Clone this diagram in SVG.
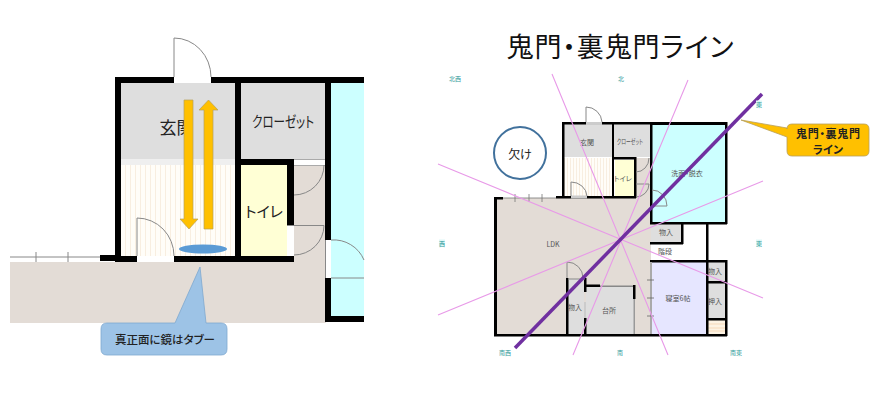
<svg xmlns="http://www.w3.org/2000/svg" width="886" height="410" viewBox="0 0 886 410">
<style>
text{font-family:"Noto Sans CJK JP","Noto Sans",sans-serif;text-anchor:middle;dominant-baseline:central;font-feature-settings:"palt"}
.w{fill:#000}
.g{fill:#dedede}
.bg{fill:#e3dcd6}
.c{fill:#ccffff}
.y{fill:#ffffd5}
.wh{fill:#fff}
.d{fill:none;stroke:#888;stroke-width:1}
.o{fill:#ffc000;stroke:#b8a05a;stroke-width:.7}
.p{stroke:#e89ae8;stroke-width:1.1;fill:none}
.t{fill:#2f9a9a;font-size:6px}
.s{fill:#555;font-size:7px}
.tb{fill:#dff7f7}
</style>
<defs>
<pattern id="st" width="5" height="10" patternUnits="userSpaceOnUse"><rect width="5" height="10" fill="#fffdf8"/><rect width="1" height="10" fill="#f8eee0"/></pattern>
<pattern id="st2" width="3" height="10" patternUnits="userSpaceOnUse"><rect width="3" height="10" fill="#fffdf8"/><rect width="1" height="10" fill="#f8eee0"/></pattern>
</defs>

<g id="plan-left">
<rect class="bg" x="10" y="262" width="316" height="61"/>
<rect class="bg" x="294" y="159" width="32" height="104"/>
<rect class="g" x="121" y="83" width="114" height="76"/>
<rect x="121" y="159" width="114" height="6" fill="#efefef"/>
<rect x="121" y="165" width="114" height="91" fill="url(#st)"/>
<rect class="g" x="241" y="83" width="84" height="76"/>
<rect class="y" x="241" y="165" width="46" height="91"/>
<rect class="c" x="331" y="83" width="33" height="233"/>
<path class="w" d="M115 77H364V83H331V316H364V322H325V83H241V159H294V262H115V83H115ZM121 83V256H235V83ZM241 165V256H287V165Z" fill-rule="evenodd"/>
<rect class="wh" x="294" y="160" width="31" height="5"/>
<path d="M294 159.500H325M294 165.500H325" stroke="#aaa" stroke-width="1"/>
<rect class="w" x="100" y="255" width="16" height="6"/>
<path d="M10 257H100M36 252V262M68 252V262" stroke="#888" stroke-width="1" fill="none"/>
<rect class="wh" x="174" y="77" width="37" height="6"/>
<path class="d" d="M174 77V38A37 39 0 0 1 211 77"/>
<rect class="wh" x="137" y="256" width="37" height="6"/>
<path class="d" d="M137 256V218A37 38 0 0 1 174 256"/>
<rect class="wh" x="287" y="226" width="7" height="30"/>
<path class="d" d="M287 225.500H324A30 30 0 0 1 294 255"/>
<path class="d" d="M324 165A30 30 0 0 1 294 195"/>
<rect class="wh" x="326" y="240" width="5" height="38"/>
<path class="d" d="M325.500 240V278M331 240A33 33 0 0 1 364 260M331 278H364"/>
</g>
<g id="genkan-left"><text x="176.500" y="126" font-size="17" fill="#222">玄関</text></g>
<g id="closet-left"><text x="283" y="120" font-size="15" fill="#222" textLength="62" lengthAdjust="spacingAndGlyphs">クローゼット</text></g>
<g id="toilet-left"><text x="264" y="210" font-size="15" fill="#222">トイレ</text></g>
<g id="arrows">
<path class="o" d="M184 100H193V219H198L189 229L180 219H184Z"/>
<path class="o" d="M204 229H213V110H218L208.500 100L199 110H204Z"/>
</g>
<ellipse id="mirror" cx="203" cy="249" rx="24" ry="4.500" fill="#5b9bd5"/>
<g id="callout-mirror">
<path d="M107 323H175L200 267L206 323H221Q227 323 227 329V349Q227 355 221 355H107Q101 355 101 349V329Q101 323 107 323Z" fill="#9dc3e6" stroke="#7fa8cf" stroke-width=".8"/>
<text x="165" y="339" font-size="11.500" font-weight="500" fill="#222">真正面に鏡はタブー</text>
</g>

<g id="title"><text x="620" y="45" font-size="27" fill="#111" textLength="227" lengthAdjust="spacing">鬼門・裏鬼門ライン</text></g>

<g id="plan-right">
<rect class="bg" x="495" y="198" width="156" height="137"/>
<rect class="bg" x="636" y="158" width="15" height="40"/>
<rect class="g" x="564" y="124" width="48" height="33"/>
<rect x="564" y="158" width="48" height="38" fill="url(#st2)"/>
<rect class="g" x="614" y="124" width="36" height="33"/>
<rect class="y" x="615" y="160" width="19" height="36"/>
<rect class="c" x="652" y="124" width="74" height="99"/>
<rect class="g" x="651" y="224" width="31" height="18"/>
<rect class="wh" x="651" y="242" width="56" height="19"/>
<rect x="652" y="262" width="55" height="72" fill="#e6e6ff"/>
<rect class="g" x="708" y="262" width="18" height="57"/>
<rect x="708" y="320" width="18" height="14" fill="#fdf3e3"/>
<path d="M708 324H726M708 328H726M708 331H726" stroke="#f2cfa8" stroke-width=".7"/>
<rect class="g" x="568" y="279" width="16" height="55"/>
<rect class="g" x="586" y="287" width="48" height="47"/>
<rect x="562" y="122" width="2.500" height="75"/>
<rect x="562" y="122" width="90" height="2.500"/>
<rect x="612" y="122" width="2" height="75"/>
<rect x="650" y="122" width="2.500" height="102"/>
<rect x="650" y="122" width="77" height="3"/>
<rect x="725" y="122" width="2.500" height="102"/>
<rect x="650" y="222" width="77" height="2.500"/>
<rect x="614" y="157" width="22" height="2.500"/>
<rect x="634" y="157" width="2.500" height="41"/>
<rect x="556" y="196" width="80" height="2.500"/>
<rect x="494" y="197" width="3" height="139"/>
<rect x="494" y="197" width="9" height="2.500"/>
<path d="M503 198H556M515 194V202M529 194V202M542 194V202" stroke="#777" stroke-width=".8" fill="none"/>
<rect x="494" y="334" width="233" height="2.500"/>
<rect x="650" y="242" width="33" height="2.500"/>
<rect x="681" y="224" width="2.500" height="20"/>
<rect x="706" y="223" width="2.500" height="112"/>
<rect x="650" y="260" width="77" height="2.500"/>
<rect x="725" y="260" width="2.500" height="76"/>
<rect x="706" y="281" width="20" height="2.500"/>
<rect x="706" y="318" width="20" height="2.500"/>
<rect x="650" y="262" width="2" height="72" fill="#aaa"/>
<path d="M647 280H654M647 298H654M647 316H654" stroke="#666" stroke-width=".8"/>
<rect x="566" y="278" width="2.500" height="57"/>
<rect x="584" y="278" width="2.500" height="14"/>
<rect x="584" y="318" width="2.500" height="17"/>
<rect x="584" y="302" width="2" height="16" fill="#ccc"/>
<path d="M568 279H585" stroke="#888" stroke-width="1"/>
<rect x="586" y="284.500" width="14" height="2.500"/>
<rect x="600" y="285.500" width="34" height="1.500" fill="#888"/>
<rect x="633" y="285" width="2.500" height="14"/>
<rect x="633.500" y="299" width="1.500" height="35" fill="#999"/>
<rect x="586" y="122" width="16" height="3" fill="#ccc"/>
<rect x="571" y="195.500" width="16" height="3" fill="#ccc"/>
<path class="d" d="M586 122V107A16 16 0 0 1 602 122M571 196V182A16 15 0 0 1 587 196"/>
<path class="d" d="M636 172A13 14 0 0 0 649 158M636 184H649A13 13 0 0 1 636 197"/>
<path class="d" d="M652 190A15 16 0 0 1 667 206H652"/>
<path class="d" d="M567 278V262A16 16 0 0 1 583 278"/>
</g>
<g id="rooms-right">
<text class="s" x="587" y="142">玄関</text>
<text class="s" x="630" y="141" textLength="26" lengthAdjust="spacingAndGlyphs">クローゼット</text>
<text class="s" x="623" y="178">トイレ</text>
<text class="s" x="687" y="173">洗面・脱衣</text>
<text class="s" x="553" y="244">LDK</text>
<text class="s" x="666" y="232">物入</text>
<text class="s" x="665" y="251">階段</text>
<text class="s" x="715" y="271">物入</text>
<text class="s" x="715" y="301">押入</text>
<text class="s" x="678" y="298">寝室6帖</text>
<text class="s" x="575" y="307">物入</text>
<text class="s" x="609" y="310">台所</text>
</g>
<g id="lines">
<path class="p" d="M552 74L668 355M438 164L763 298M438 315L763 181M573 355L688 80"/>
<path d="M515 348L762 94" stroke="#7030a0" stroke-width="3.500" fill="none"/>
</g>
<g id="compass">
<text class="t" x="455" y="78">北西</text>
<text class="t" x="621" y="78">北</text>
<rect class="tb" x="756" y="100.500" width="6" height="7"/>
<text class="t" x="759" y="104">東</text>
<rect class="tb" x="439" y="239.500" width="6" height="7"/>
<text class="t" x="442" y="243">西</text>
<rect class="tb" x="756" y="239.500" width="6" height="7"/>
<text class="t" x="759" y="243">東</text>
<text class="t" x="505" y="352">南西</text>
<text class="t" x="620" y="352">南</text>
<text class="t" x="736" y="352">南東</text>
</g>
<g id="kake">
<circle cx="520" cy="153" r="26" fill="#fff" stroke="#41719c" stroke-width="2"/>
<text x="520" y="153" font-size="12" fill="#222">欠け</text>
</g>
<g id="callout-line">
<path d="M792 124H864Q869 124 869 129V151Q869 156 864 156H792Q787 156 787 151V137L741 120L787 128V129Q787 124 792 124Z" fill="#ffc000" stroke="#b8a05a" stroke-width=".8"/>
<text x="828" y="132.500" font-size="11" font-weight="700" fill="#222" textLength="64" lengthAdjust="spacing">鬼門・裏鬼門</text>
<text x="828" y="148.500" font-size="11" font-weight="700" fill="#222">ライン</text>
</g>
</svg>
